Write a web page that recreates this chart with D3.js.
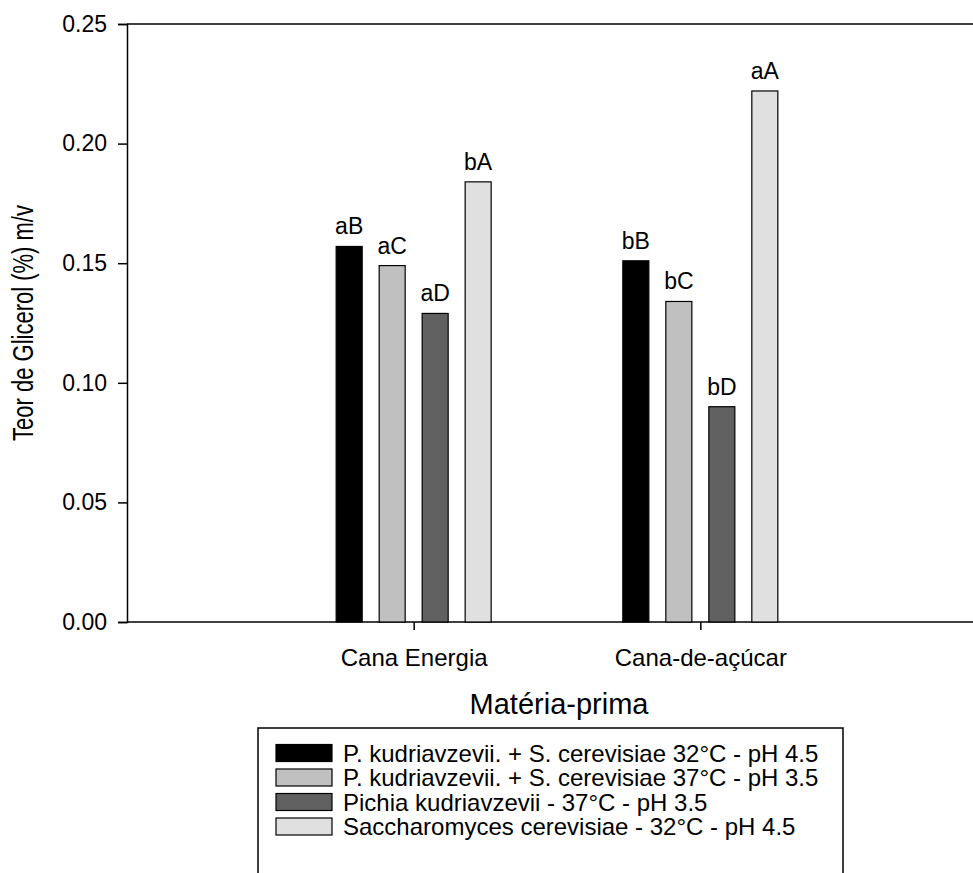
<!DOCTYPE html>
<html lang="pt">
<head>
    <meta charset="utf-8">
    <script src="https://d3js.org/d3.v7.min.js"></script>
    <style>
        body { margin: 0; background: #fff; }
        text { font-family: Arial, "Liberation Sans", sans-serif; fill: #000; }
        .axis path, .axis line { stroke: #000; stroke-width: 1.5; }
    </style>
</head>
<body>
<script>
    // data
    const categories = ['Cana Energia', 'Cana-de-açúcar'];
    const seriesNames = [
        'P. kudriavzevii. + S. cerevisiae 32°C - pH 4.5',
        'P. kudriavzevii. + S. cerevisiae 37°C - pH 3.5',
        'Pichia kudriavzevii - 37°C - pH 3.5',
        'Saccharomyces cerevisiae - 32°C - pH 4.5'
    ];
    const seriesColors = ['#000000', '#c0c0c0', '#606060', '#e0e0e0'];
    // values per series, one per category
    const pkSc32 = [0.157, 0.151];
    const pkSc37 = [0.149, 0.134];
    const pichia37 = [0.129, 0.090];
    const sacc32 = [0.184, 0.222];
    // letters above bars, same order
    const lettersPkSc32 = ['aB', 'bB'];
    const lettersPkSc37 = ['aC', 'bC'];
    const lettersPichia37 = ['aD', 'bD'];
    const lettersSacc32 = ['bA', 'aA'];
    const yTicks = [0, 0.05, 0.10, 0.15, 0.20, 0.25];

    const seriesValues = [pkSc32, pkSc37, pichia37, sacc32];
    const seriesLetters = [lettersPkSc32, lettersPkSc37, lettersPichia37, lettersSacc32];

    const rows = [];
    categories.forEach(function (c, ci) {
        seriesNames.forEach(function (s, si) {
            rows.push({cat: c, series: s, idx: si, value: seriesValues[si][ci], label: seriesLetters[si][ci]});
        });
    });

    const W = 973, H = 873;
    const svg = d3.select('body').append('svg')
        .attr('width', W).attr('height', H);

    const plotLeft = 127, plotTop = 24, plotBottom = 622;

    let y = d3.scaleLinear().domain([0, 0.25]).range([plotBottom, plotTop]);
    let x0 = d3.scalePoint().domain(categories).range([plotLeft, 987]).padding(1);
    let x1 = d3.scaleBand().domain(seriesNames).range([-77.5, 77.5]).paddingInner(0.395);

    // top frame line
    svg.append('line')
        .attr('x1', plotLeft).attr('x2', W)
        .attr('y1', y(0.25)).attr('y2', y(0.25))
        .attr('stroke', '#000').attr('stroke-width', 1.5);

    // y axis
    svg.append('g').attr('class', 'axis')
        .attr('transform', 'translate(' + plotLeft + ',0)')
        .call(d3.axisLeft(y).tickValues(yTicks).tickFormat(d3.format('.2f')).tickSizeOuter(0).tickSize(9).tickPadding(11))
        .call(function (g) {
            g.selectAll('text').style('font-size', '23px');
        });

    // x axis
    const xAxis = svg.append('g').attr('class', 'axis')
        .attr('transform', 'translate(0,' + plotBottom + ')')
        .call(d3.axisBottom(x0).tickSizeOuter(0).tickSize(8).tickPadding(19));
    xAxis.select('.domain').attr('d', 'M' + plotLeft + ',0H' + W);
    xAxis.selectAll('text').style('font-size', '24px');

    // bars
    svg.append('g').selectAll('rect')
        .data(rows)
        .enter().append('rect')
        .attr('x', function (d) { return x0(d.cat) + x1(d.series); })
        .attr('y', function (d) { return y(d.value); })
        .attr('width', x1.bandwidth())
        .attr('height', function (d) { return y(0) - y(d.value); })
        .attr('fill', function (d) { return seriesColors[d.idx]; })
        .attr('stroke', '#000')
        .attr('stroke-width', 1.2);

    // letters
    svg.append('g').selectAll('text')
        .data(rows)
        .enter().append('text')
        .attr('x', function (d) { return x0(d.cat) + x1(d.series) + x1.bandwidth() / 2; })
        .attr('y', function (d) { return y(d.value) - 12; })
        .attr('text-anchor', 'middle')
        .style('font-size', '23px')
        .text(function (d) { return d.label; });

    // axis titles (y title is a bit thicker in the original, so stretch it sideways)
    svg.append('text')
        .attr('transform', 'translate(33,' + ((plotTop + plotBottom) / 2) + ') scale(1.3,1) rotate(-90)')
        .attr('text-anchor', 'middle')
        .style('font-size', '22px')
        .text('Teor de Glicerol (%) m/v');

    svg.append('text')
        .attr('x', 559).attr('y', 714)
        .attr('text-anchor', 'middle')
        .style('font-size', '29px')
        .text('Matéria-prima');

    // legend
    const legend = svg.append('g');
    legend.append('path')
        .attr('d', 'M258,' + (H + 2) + 'V728H843V' + (H + 2))
        .attr('fill', 'none').attr('stroke', '#000').attr('stroke-width', 1.5);

    const item = legend.selectAll('g.item')
        .data(seriesNames)
        .enter().append('g').attr('class', 'item')
        .attr('transform', function (d, i) { return 'translate(276,' + (753 + i * 24.5) + ')'; });
    item.append('rect')
        .attr('x', 0).attr('y', -8.5)
        .attr('width', 56).attr('height', 17)
        .attr('fill', function (d, i) { return seriesColors[i]; })
        .attr('stroke', '#000').attr('stroke-width', 1.2);
    item.append('text')
        .attr('x', 67).attr('y', 8.5)
        .style('font-size', '24px')
        .text(function (d) { return d; });
</script>
</body>
</html>
